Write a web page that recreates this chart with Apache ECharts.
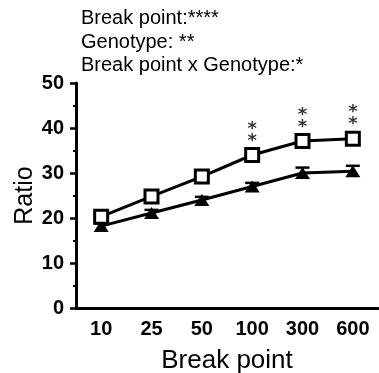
<!DOCTYPE html>
<html>
<head>
<meta charset="utf-8">
<script src="https://cdn.jsdelivr.net/npm/echarts@6/dist/echarts.min.js"></script>
<style>
  html, body { margin: 0; padding: 0; background: #fff; }
  #chart { width: 379px; height: 373px; }
</style>
</head>
<body>
<div id="chart"></div>
<script>
// data
const breakPoints = ['10', '25', '50', '100', '300', '600']
const squareMean = [20.3, 24.8, 29.2, 34.0, 37.1, 37.6]
const squareErr = [0.8, 1.0, 0.6, 0.8, 0.7, 0.8]
const triangleMean = [18.2, 21.1, 24.0, 27.0, 30.0, 30.4]
const triangleErr = [0.6, 0.7, 0.7, 0.8, 1.2, 1.2]
const stars = ['', '', '', '*\n*', '*\n*', '*\n*']
const yTicks = [0, 10, 20, 30, 40, 50]

const font = 'Liberation Sans, Arial, sans-serif'
const chart = echarts.init(document.getElementById('chart'))

// error bars (upper only) drawn from mean + err
const errBars = (mean, err) => ({
    type: 'custom',
    z: 1,
    data: mean.map((m, i) => [i, m, m + err[i]]),
    renderItem: (params, api) => {
        const lo = api.coord([api.value(0), api.value(1)])
        const hi = api.coord([api.value(0), api.value(2)])
        const w = 7
        return {
            type: 'group',
            children: [
                { type: 'line', shape: { x1: lo[0], y1: lo[1], x2: hi[0], y2: hi[1] }, style: { stroke: '#000', lineWidth: 2.5 } },
                { type: 'line', shape: { x1: hi[0] - w, y1: hi[1], x2: hi[0] + w, y2: hi[1] }, style: { stroke: '#000', lineWidth: 2.5 } }
            ]
        }
    }
})

const option = {
    animation: false,
    title: {
        text: 'Break point:****\nGenotype: **\nBreak point x Genotype:*',
        left: 81,
        top: 7,
        padding: 0,
        textStyle: { fontFamily: font, fontSize: 20, fontWeight: 'normal', color: '#000', lineHeight: 23.5 }
    },
    // v6: keep the grid where it is, don't shrink it for labels
    grid: { left: 76, right: 1, top: 83, bottom: 65, containLabel: false, outerBoundsMode: 'none' },
    xAxis: {
        type: 'category',
        data: breakPoints,
        name: 'Break point',
        nameLocation: 'middle',
        nameGap: 40,
        nameTextStyle: { fontFamily: font, fontSize: 26, color: '#000' },
        axisLine: { lineStyle: { color: '#000', width: 3 } },
        axisTick: { alignWithLabel: true, length: 6, lineStyle: { color: '#000', width: 2.5 } },
        axisLabel: { fontFamily: font, fontSize: 20, fontWeight: 'bold', color: '#000', margin: 11 }
    },
    yAxis: {
        type: 'value',
        min: yTicks[0],
        max: yTicks[yTicks.length - 1],
        interval: 10,
        name: 'Ratio',
        nameLocation: 'middle',
        nameGap: 38,
        nameMoveOverlap: false,
        nameTextStyle: { fontFamily: font, fontSize: 25, color: '#000' },
        axisLine: { show: true, lineStyle: { color: '#000', width: 3 } },
        axisTick: { show: true, length: 6, lineStyle: { color: '#000', width: 2.5 } },
        minorTick: { show: true, splitNumber: 2, length: 3, lineStyle: { color: '#000', width: 2 } },
        splitLine: { show: false },
        axisLabel: { fontFamily: font, fontSize: 20, fontWeight: 'bold', color: '#000', margin: 12 }
    },
    series: [
        errBars(triangleMean, triangleErr),
        errBars(squareMean, squareErr),
        {
            type: 'line',
            data: triangleMean,
            symbol: 'triangle',
            symbolSize: [15, 12],
            z: 2,
            lineStyle: { color: '#000', width: 3 },
            itemStyle: { color: '#000', borderColor: '#000', borderWidth: 0 }
        },
        {
            type: 'line',
            data: squareMean,
            symbol: 'rect',
            symbolSize: 13,
            z: 3,
            lineStyle: { color: '#000', width: 3 },
            itemStyle: { color: '#fff', borderColor: '#000', borderWidth: 3 }
        },
        {
            type: 'scatter',
            data: squareMean.map((m, i) => [i, m, stars[i]]),
            symbolSize: 0,
            z: 4,
            label: {
                show: true,
                position: 'top',
                distance: 8,
                formatter: p => p.data[2],
                fontFamily: 'DejaVu Sans, sans-serif',
                fontSize: 18,
                fontWeight: 'bold',
                lineHeight: 12,
                color: '#000'
            }
        }
    ]
}

chart.setOption(option)
</script>
</body>
</html>
